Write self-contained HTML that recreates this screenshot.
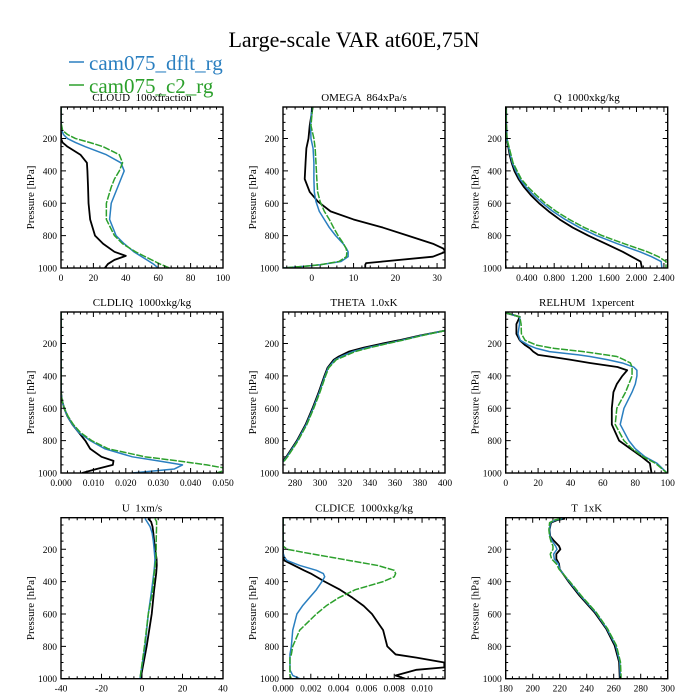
<!DOCTYPE html>
<html><head><meta charset="utf-8">
<style>
html,body{margin:0;padding:0;background:#fff;}
svg{display:block;font-family:"Liberation Serif",serif;}
text{white-space:pre;}
</style></head>
<body>
<svg id="fig" width="700" height="700" viewBox="0 0 700 700" xmlns="http://www.w3.org/2000/svg">
<rect width="700" height="700" fill="#fff"/>
<text x="354" y="47" font-size="22" text-anchor="middle">Large-scale VAR at60E,75N</text>
<g>
<line x1="69" y1="62" x2="84" y2="62" stroke="#2a7fc0" stroke-width="1.5"/>
<text x="89" y="70" font-size="21" fill="#2a7fc0">cam075_dflt_rg</text>
<line x1="69" y1="85" x2="84" y2="85" stroke="#2ca02c" stroke-width="1.5"/>
<text x="89" y="93" font-size="21" fill="#2ca02c">cam075_c2_rg</text>
</g>
</svg>
<script>
// CLOUD
const cloudP=[5,100,150,175,200,225,250,300,350,400,450,500,600,700,800,850,900,925,950,975,1000];
const cloudObs=[0,0,0,0,0,1,4,12,16,16.3,16.5,16.7,17,18,21,26,33,40,33,29,27];
const cloudDflt=[0,0,0.5,1.5,4,9,15,28,37,39,37,35,31,30,34,39,45,49,53,57,60];
const cloudC2=[0,0,1,4,9,18,26,36,38,36,33,31,28,28,33,38,46,51,56,61,67];
const cloudTicks=[0,20,40,60,80,100];
// OMEGA
const omegaP=[5,120,200,260,350,450,530,590,650,700,750,800,850,880,900,930,960,970,980,990,1000];
const omegaObs=[0.2,-0.5,-0.8,-1.3,-1.5,-1.7,-0.5,1.5,4.5,10,17,23,29,31.5,32,29,17,13,12.8,12.8,12.8];
const omegaDflt=[0,-0.3,-0.2,0.3,0.5,0.5,0.6,1,1.8,3,4.2,5.7,7.5,8.3,8.7,8.7,7,4.5,2,-2,-7];
const omegaC2=[0.2,-0.2,0.5,0.8,1,1.2,1.4,2,3,4.2,5.2,6.3,7.6,8.2,8.4,8.3,6.5,4.2,2,-2,-7];
const omegaTicks=[0,10,20,30];
// Q
const qP=[5,100,200,300,350,400,450,500,550,600,650,700,750,800,850,900,930,960,1000];
const qObs=[0.1,0.1,0.11,0.15,0.18,0.22,0.28,0.36,0.46,0.58,0.72,0.88,1.07,1.3,1.55,1.8,1.93,2.06,2.08];
const qDflt=[0.1,0.1,0.11,0.16,0.19,0.24,0.3,0.39,0.5,0.63,0.78,0.96,1.17,1.42,1.72,2.05,2.22,2.36,2.37];
const qC2=[0.1,0.1,0.11,0.17,0.2,0.26,0.32,0.42,0.54,0.67,0.83,1.02,1.24,1.5,1.82,2.16,2.32,2.43,2.43];
const qTicks=[0.4,0.8,1.2,1.6,2.0,2.4];
// CLDLIQ
const liqP=[5,400,500,550,600,650,700,750,800,850,900,925,950,975,1000];
const liqObs=[0,0,0,0.0003,0.001,0.002,0.0035,0.0055,0.0075,0.009,0.0125,0.0162,0.016,0.011,0.0065];
const liqDflt=[0,0,0,0.0003,0.001,0.002,0.0035,0.0055,0.009,0.0135,0.022,0.03,0.0375,0.035,0.022];
const liqC2=[0,0,0,0.0003,0.001,0.0022,0.0038,0.006,0.0095,0.0145,0.026,0.036,0.045,0.052,0.048];
const liqTicks=[0,0.01,0.02,0.03,0.04,0.05];
// THETA
const thetaP=[120,150,180,200,225,250,280,300,350,400,500,600,700,800,900,930];
const thetaObs=[400,380,363,350,335,323,315,311,306,303.5,299,294,288.5,281.5,273,270];
const thetaDflt=[400,381,365,353,338,326,317,312,306.5,304,299.5,294.5,289,282,273.5,270.5];
const thetaC2=[400,382,366,354,340,328,319,313,307,304.5,300,295,289.5,282.5,274,271];
const thetaTicks=[280,300,320,340,360,380,400];
// RELHUM
const rhP=[10,35,80,140,180,210,230,250,270,280,300,320,345,365,400,450,500,600,700,800,850,900,940,1000];
const rhObs=[0,8.7,6.6,6.6,8.7,12,15,17,20,27,40,52,69,75,72,68.6,66.5,65.5,65.5,70,77,84,89,90];
const rhDflt=[0,8.7,8.5,7.6,9,14,19,27,45,52,63,72,79,81,81,80,78,73,70.7,76,80,86,93.4,99.6];
const rhC2=[0,8.7,9.5,9.7,12,19,30,48,62,68.6,73,77,78,78,78,76,74,68.6,67.6,73,78,85,92.4,99.6];
const rhTicks=[0,20,40,60,80,100];
// U
const uP=[10,30,60,100,150,200,260,300,350,450,600,800,1000];
const uObs=[3,4.5,5.2,5.6,6,6.5,7.2,7.3,7,6,4.8,2.3,-0.7];
const uDflt=[1.5,2.5,4,5,5.6,6,6.4,6.2,5.8,4.8,3.1,1.5,-1];
const uC2=[6.4,7.2,7.2,7.1,7,7,6.9,6.5,6,5.4,3.1,1.2,-1];
const uTicks=[-40,-20,0,20,40];
// CLDICE
const iceP=[5,180,200,220,250,270,300,330,350,370,400,450,500,550,600,700,800,850,870,900,930,945,980,1000];
const iceObs=[0,0,0,0,0,0.0001,0.0008,0.0015,0.002,0.0024,0.003,0.0041,0.005,0.0058,0.0064,0.0072,0.0075,0.0081,0.0096,0.0116,0.0116,0.0096,0.0081,0.0088];
const iceDflt=[0,0,0,0,0.0001,0.0003,0.0012,0.0024,0.0029,0.003,0.0028,0.0024,0.0019,0.0014,0.001,0.0007,0.0006,0.0005,0.0005,0.0005,0.0005,0.0005,0.0007,0.0012];
const iceC2=[0,0,0.0003,0.0015,0.0035,0.0048,0.0068,0.008,0.0081,0.008,0.0072,0.0052,0.004,0.0031,0.0024,0.0012,0.0007,0.0006,0.0005,0.0005,0.0005,0.0005,0.0005,0.0006];
const iceTicks=[0,0.002,0.004,0.006,0.008,0.010];
// T
const tP=[11,20,36,80,120,150,180,200,230,260,290,323,405,487,590,692,795,897,1000];
const tObs=[224,218,213.5,212.5,213,216,219.5,220.5,217.5,217.5,219.5,220,227,234.7,245.8,254.5,260.7,264,264.5];
const tDflt=[222,217,213,212.5,212.8,214.5,217,218,215.5,216,219,220,227.5,235.5,246.5,255,261.5,264.5,265];
const tC2=[221,216,212.5,212,212.5,213.5,215,215,213,214,217.5,219.5,228,236,247,255.5,262,265,265.5];
const tTicks=[180,200,220,240,260,280,300];
const yTicks=[200,400,600,800,1000];

const NS="http://www.w3.org/2000/svg";
const svg=document.getElementById('fig');
function mk(tag,attrs,parent){const e=document.createElementNS(NS,tag);for(const k in attrs)e.setAttribute(k,attrs[k]);(parent||svg).appendChild(e);return e;}

const panels=[
 {name:'cloud',title:'CLOUD  100xfraction',col:0,row:0,xmin:0,xmax:100,ticks:cloudTicks,fmt:v=>String(v),minor:5,P:cloudP,s:[cloudObs,cloudDflt,cloudC2]},
 {name:'omega',title:'OMEGA  864xPa/s',col:1,row:0,xmin:-6.9,xmax:31.9,ticks:omegaTicks,fmt:v=>String(v),minor:5,P:omegaP,s:[omegaObs,omegaDflt,omegaC2]},
 {name:'q',title:'Q  1000xkg/kg',col:2,row:0,xmin:0.093,xmax:2.455,ticks:qTicks,fmt:v=>v.toFixed(3),minor:4,P:qP,s:[qObs,qDflt,qC2]},
 {name:'cldliq',title:'CLDLIQ  1000xkg/kg',col:0,row:1,xmin:0,xmax:0.05,ticks:liqTicks,fmt:v=>v.toFixed(3),minor:5,P:liqP,s:[liqObs,liqDflt,liqC2]},
 {name:'theta',title:'THETA  1.0xK',col:1,row:1,xmin:270.4,xmax:400,ticks:thetaTicks,fmt:v=>String(v),minor:4,P:thetaP,s:[thetaObs,thetaDflt,thetaC2]},
 {name:'relhum',title:'RELHUM  1xpercent',col:2,row:1,xmin:0,xmax:100,ticks:rhTicks,fmt:v=>String(v),minor:5,P:rhP,s:[rhObs,rhDflt,rhC2]},
 {name:'u',title:'U  1xm/s',col:0,row:2,xmin:-40,xmax:40,ticks:uTicks,fmt:v=>String(v),minor:5,P:uP,s:[uObs,uDflt,uC2]},
 {name:'cldice',title:'CLDICE  1000xkg/kg',col:1,row:2,xmin:0,xmax:0.01165,ticks:iceTicks,fmt:v=>v.toFixed(3),minor:4,P:iceP,s:[iceObs,iceDflt,iceC2]},
 {name:'t',title:'T  1xK',col:2,row:2,xmin:180,xmax:300,ticks:tTicks,fmt:v=>String(v),minor:4,P:tP,s:[tObs,tDflt,tC2]}
];
const colX=[61,283,505.7], rowY=[107,312,517.7], W=162, H=161;
const pTop=5,pBot=1000;
const colors=['#000000','#2a7fc0','#2ca02c'];
const sNames=['obs','dflt','c2'];

panels.forEach((pn,idx)=>{
  const x0=colX[pn.col], y0=rowY[pn.row];
  const sx=v=>x0+(v-pn.xmin)/(pn.xmax-pn.xmin)*W;
  const sy=p=>y0+(p-pTop)/(pBot-pTop)*H;
  const g=mk('g',{});
  
  
  const t=mk('text',{x:x0+W/2,y:y0-6,'font-size':'11','text-anchor':'middle'},g);
  
  
  t.textContent=pn.title;
  const cp=mk('clipPath',{id:'clip'+idx},g);
  mk('rect',{x:x0,y:y0,width:W,height:H},cp);
  const sg=mk('g',{'clip-path':'url(#clip'+idx+')'},g);
  pn.s.forEach((arr,k)=>{
    let d='';
    arr.forEach((v,i)=>{d+=(i?'L':'M')+sx(v).toFixed(2)+','+sy(pn.P[i]).toFixed(2);});
    const path=mk('path',{d:d,fill:'none',stroke:colors[k],'stroke-width':k===0?'1.8':'1.5','stroke-linejoin':'round'},sg);
    if(k===2)path.setAttribute('stroke-dasharray','7,1.5');
    
    
  });
  const fr=mk('rect',{x:x0,y:y0,width:W,height:H,fill:'none',stroke:'#000','stroke-width':'1.4'},g);
  
  
  const step=pn.ticks.length>1?pn.ticks[1]-pn.ticks[0]:1;
  let tk='';
  const first=pn.ticks[0]-step*Math.ceil((pn.ticks[0]-pn.xmin)/step);
  for(let v=first; v<=pn.xmax+1e-9; v+=step/pn.minor){
    if(v<pn.xmin-1e-9)continue;
    const X=sx(v);
    const isMaj=pn.ticks.some(tv=>Math.abs(tv-v)<step*1e-3);
    const L=isMaj?5:2.5;
    tk+='M'+X.toFixed(2)+','+(y0+H)+'v'+(-L)+'M'+X.toFixed(2)+','+y0+'v'+L;
  }
  for(let p=0;p<=1000;p+=50){
    if(p<pTop)continue;
    const Y=sy(p); const L=(p%200===0)?5:2.5;
    tk+='M'+x0+','+Y.toFixed(2)+'h'+L+'M'+(x0+W)+','+Y.toFixed(2)+'h'+(-L);
  }
  const tp=mk('path',{d:tk,stroke:'#000','stroke-width':'1',fill:'none'},g);
  
  
  pn.ticks.forEach(v=>{
    const lt=mk('text',{x:sx(v),y:y0+H+13,'font-size':'9.5','text-anchor':'middle'},g);
    
    
    lt.textContent=pn.fmt(v);
  });
  yTicks.forEach(p=>{
    const lt=mk('text',{x:x0-4,y:sy(p)+3.5,'font-size':'9.5','text-anchor':'end'},g);
    
    
    lt.textContent=String(p);
  });
  const yt=mk('text',{x:0,y:0,'font-size':'11','text-anchor':'middle',transform:'translate('+(x0-27)+','+(y0+H/2+10)+') rotate(-90)'},g);
  
  
  yt.textContent='Pressure [hPa]';
});
</script>
</body></html>
